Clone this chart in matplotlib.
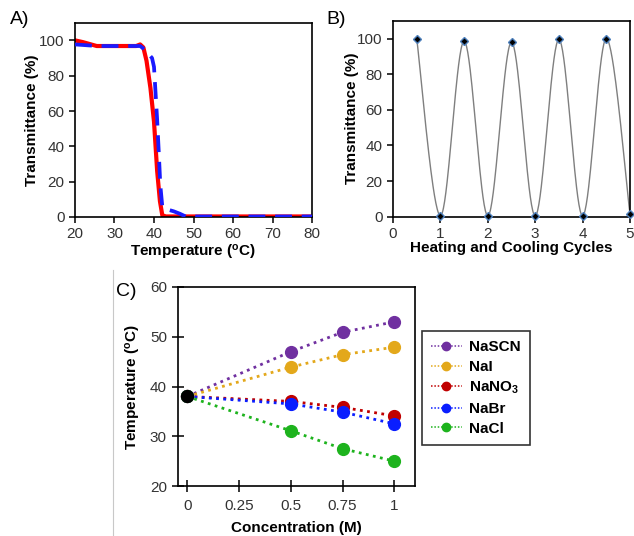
import numpy as np
import matplotlib
matplotlib.use("Agg")
import matplotlib.pyplot as plt
from matplotlib.lines import Line2D

plt.rcParams['font.family'] = ['Liberation Sans', 'DejaVu Sans']
plt.rcParams['mathtext.fontset'] = 'custom'
plt.rcParams['mathtext.rm'] = 'Liberation Sans'
plt.rcParams['mathtext.bf'] = 'Liberation Sans:bold'
plt.rcParams['mathtext.it'] = 'Liberation Sans:italic'

# ---------------- Data ----------------
# Panel A: transmittance vs temperature (heating = red, cooling = blue dashed)
tempA_red = [20, 22, 25.5, 35.5, 36.5, 37.3, 38.1, 39.1, 40.0, 40.8, 41.5, 42.1, 43, 80]
transA_red = [100, 99, 96.8, 96.8, 97.7, 96, 88.5, 73, 54, 26, 9, 1, 0.3, 0.3]
tempA_blue = [20, 25.7, 36.5, 37.8, 39.5, 40.0, 40.4, 40.8, 41.2, 41.6, 42.1, 43, 45, 46.6, 48, 80]
transA_blue = [97.7, 96.8, 96.8, 94.5, 90, 85, 70, 55, 37, 18, 6, 4.5, 3.2, 1.8, 0.3, 0.3]

# Panel B: heating/cooling cycles
cycles = [0.5, 1, 1.5, 2, 2.5, 3, 3.5, 4, 4.5, 5]
transB = [100, 0.5, 98.5, 0.5, 98, 0.5, 99.5, 0.5, 100, 1.5]

# Panel C: cloud point temperature vs salt concentration
conc = [0, 0.5, 0.75, 1]
salts = ['NaSCN', 'NaI', 'NaNO$_\\mathbf{3}$', 'NaBr', 'NaCl']
temps_NaSCN = [38, 47, 50.9, 53]
temps_NaI = [38, 43.9, 46.4, 47.9]
temps_NaNO3 = [38, 37.0, 35.8, 34.1]
temps_NaBr = [38, 36.5, 34.85, 32.5]
temps_NaCl = [38, 31.1, 27.5, 25]
baseline_T = 38
salt_colors = ['#7030A0', '#E3A81B', '#C00000', '#0A1EFF', '#1DB31D']
conc_ticks = [0, 0.25, 0.5, 0.75, 1]
conc_ticklabels = ['0', '0.25', '0.5', '0.75', '1']


def smooth_curve(x, y, n=40):
    """Excel-like smoothed line (Catmull-Rom Bezier) through the points."""
    P = np.column_stack([x, y]).astype(float)
    P_ext = np.vstack([P[0], P, P[-1]])
    out = []
    t = np.linspace(0, 1, n)[:, None]
    for i in range(1, len(P_ext) - 2):
        p0, p1, p2, p3 = P_ext[i - 1], P_ext[i], P_ext[i + 1], P_ext[i + 2]
        c1 = p1 + (p2 - p0) / 6.0
        c2 = p2 - (p3 - p1) / 6.0
        seg = ((1 - t) ** 3) * p1 + 3 * ((1 - t) ** 2) * t * c1 + 3 * (1 - t) * t ** 2 * c2 + t ** 3 * p2
        out.append(seg if i == 1 else seg[1:])
    seg = np.vstack(out)
    return seg[:, 0], seg[:, 1]


W, H = 634, 536
fig = plt.figure(figsize=(W / 100, H / 100), dpi=100)


def fig_axes(l, r, t, b):
    return fig.add_axes([l / W, 1 - b / H, (r - l) / W, (b - t) / H])


tick_fs = 11
lab_fs = 11
panel_fs = 14

# ---------------- Panel A ----------------
axA = fig_axes(75, 312, 22.7, 217)
axA.plot(tempA_red, transA_red, color='#FF0000', lw=3.0, solid_joinstyle='round', zorder=2)
axA.plot(tempA_blue, transA_blue, color='#1A1AFF', lw=2.7, ls=(0, (4.5, 2.6)), zorder=3)
axA.set_xlim(20, 80)
axA.set_ylim(0, 110)
axA.set_xticks(range(20, 81, 10))
axA.set_yticks(range(0, 101, 20))
axA.set_xlabel('Temperature ($\\mathbf{^{o}}$C)', fontsize=lab_fs, fontweight='bold')
axA.set_ylabel('Transmittance (%)', fontsize=lab_fs, fontweight='bold')
axA.xaxis.set_label_coords(0.5, -0.135)
axA.yaxis.set_label_coords(-0.15, 0.5)
fig.text(10 / W, 1 - 20 / H, 'A)', fontsize=panel_fs, va='center', ha='left')

# ---------------- Panel B ----------------
axB = fig_axes(393, 630, 20.7, 216.7)
sx, sy = smooth_curve(cycles, transB)
axB.plot(sx, sy, color='#7F7F7F', lw=1.0, zorder=2)
axB.plot(cycles, transB, ls='none', marker='D', ms=4.5, mfc='black', mec='#4F81BD', mew=1.0, zorder=3,
         clip_on=False)
axB.set_xlim(0, 5)
axB.set_ylim(0, 110)
axB.set_xticks(range(0, 6))
axB.set_yticks(range(0, 101, 20))
axB.set_xlabel('Heating and Cooling Cycles', fontsize=lab_fs, fontweight='bold')
axB.set_ylabel('Transmittance (%)', fontsize=lab_fs, fontweight='bold')
axB.xaxis.set_label_coords(0.5, -0.125)
axB.yaxis.set_label_coords(-0.143, 0.5)
fig.text(326 / W, 1 - 20 / H, 'B)', fontsize=panel_fs, va='center', ha='left')

# ---------------- Panel C ----------------
axC = fig_axes(178, 415, 287, 486)
series = [temps_NaSCN, temps_NaI, temps_NaNO3, temps_NaBr, temps_NaCl]
for name, vals, col in zip(salts, series, salt_colors):
    axC.plot(conc, vals, ls=(0, (1, 1.6)), lw=2.0, color=col, marker='o', ms=8.5, mec=col, mfc=col,
             zorder=3, label=name)
axC.plot([conc[0]], [baseline_T], ls='none', marker='o', ms=8.5, color='black', zorder=4)
axC.set_xlim(-0.045, 1.10)
axC.set_ylim(20, 60)
axC.set_xticks(conc_ticks)
axC.set_xticklabels(conc_ticklabels)
axC.set_yticks(range(20, 61, 10))
axC.tick_params(axis='both', direction='inout', length=9, width=1.3)
axC.tick_params(axis='x', pad=5)
axC.set_xlabel('Concentration (M)', fontsize=lab_fs, fontweight='bold')
axC.set_ylabel('Temperature ($\\mathbf{^{o}}$C)', fontsize=lab_fs, fontweight='bold')
axC.xaxis.set_label_coords(0.5, -0.175)
axC.yaxis.set_label_coords(-0.148, 0.5)
fig.text(116 / W, 1 - 291 / H, 'C)', fontsize=panel_fs, va='center', ha='left')

handles = [Line2D([0], [0], ls=(0, (1, 1.2)), lw=1.1, color=c, marker='o', ms=6, mec=c, mfc=c)
           for c in salt_colors]
leg = fig.legend(handles, salts, loc='upper left', bbox_to_anchor=(422 / W, 1 - 331 / H),
                 bbox_transform=fig.transFigure, frameon=True, fancybox=False, edgecolor='black',
                 prop={'weight': 'bold', 'size': 11}, handlelength=2.0, handletextpad=0.5,
                 labelspacing=0.38, borderpad=0.6, borderaxespad=0)
leg.get_frame().set_linewidth(1.2)

# common styling
for ax in (axA, axB, axC):
    for sp in ax.spines.values():
        sp.set_linewidth(1.2)
        sp.set_color('black')
    ax.tick_params(labelsize=tick_fs, width=1.1, colors='black')
    for lbl in ax.get_xticklabels() + ax.get_yticklabels():
        lbl.set_color('#333333')
axA.tick_params(length=4, direction='out')
axB.tick_params(length=4, direction='out')

# faint frame line at left of panel C image
fig.add_artist(Line2D([112.5 / W, 112.5 / W], [0, 1 - 270 / H], color='#C8C8C8', lw=0.8))

fig.savefig('out.png', dpi=100)
